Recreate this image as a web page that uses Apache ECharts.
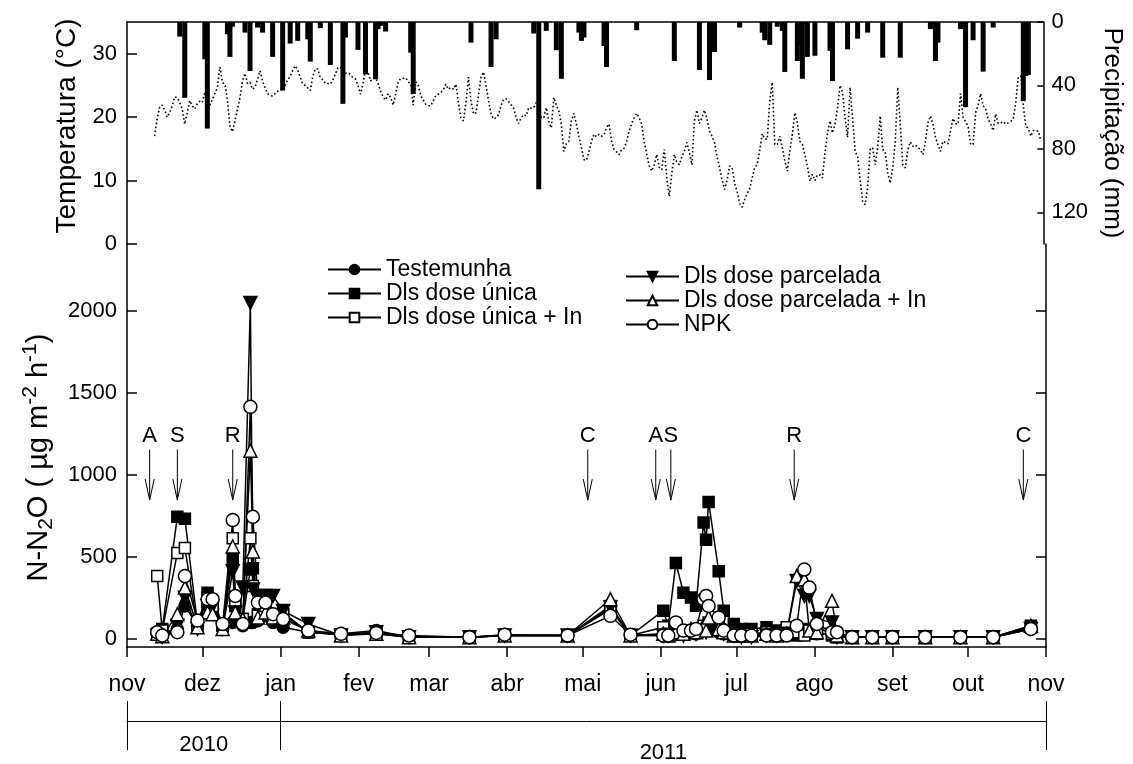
<!DOCTYPE html>
<html>
<head>
<meta charset="utf-8">
<title>N-N2O, temperatura e precipitação</title>
<script src="https://cdn.jsdelivr.net/npm/echarts@6/dist/echarts.min.js"></script>
<style>
html, body { margin: 0; padding: 0; background: #fff; }
#main { width: 1133px; height: 764px; }
</style>
</head>
<body>
<div id="main"></div>
<script>
// dias contados a partir de 1 nov 2010
const monthDays = [0, 30, 61, 92, 120, 151, 181, 212, 242, 273, 304, 334, 365];
const monthLabels = ['nov', 'dez', 'jan', 'fev', 'mar', 'abr', 'mai', 'jun', 'jul', 'ago', 'set', 'out', 'nov'];
const yearTicks = [0, 61, 365];
const yearLabelDays = [30.5, 213];
const yearLabels = ['2010', '2011'];

const tempTicks = [0, 10, 20, 30];
const rainTicks = [0, 40, 80, 120];
const fluxTicks = [0, 500, 1000, 1500, 2000];

// temperatura média diária (°C), a partir do dia 11
const tempStart = 11;
const temperature = [
  17.0, 19.7, 21.6, 21.9, 21.1, 20.0, 20.7, 21.8, 23.2, 23.1,
  22.3, 21.3, 18.9, 20.7, 22.6, 21.8, 21.3, 22.1, 22.5, 22.3,
  23.9, 22.3, 21.9, 22.8, 23.7, 24.7, 27.9, 25.5, 25.2, 22.8,
  18.6, 17.7, 19.4, 21.3, 23.1, 25.7, 26.9, 25.3, 25.5, 24.4,
  24.7, 26.0, 27.3, 25.7, 24.6, 23.7, 23.5, 23.3, 23.7, 24.1,
  24.4, 24.2, 25.0, 25.9, 26.4, 27.4, 28.1, 27.4, 26.3, 25.2,
  25.0, 24.6, 24.2, 26.4,
  27.6, 27.6, 26.2, 25.9, 25.3, 25.3,
  25.2, 25.9, 26.8, 27.8, 27.9, 27.2, 26.9, 27.0, 26.7, 26.2,
  26.0, 25.0, 23.6, 25.3, 27.6, 27.1, 25.7, 26.1, 26.2, 25.3,
  24.1, 23.2, 22.7, 23.7, 23.1, 21.9, 23.7, 25.5, 26.1, 26.1,
  26.2, 25.6, 25.2, 21.9, 25.6, 25.0, 23.4, 22.7, 22.0, 21.8,
  21.8, 22.6, 23.4, 23.6, 23.9, 24.3, 25.2, 24.4, 24.7, 24.4,
  25.2, 22.3, 19.9, 19.4, 22.3, 26.3, 22.6, 20.5, 20.7, 23.4,
  26.3, 27.1, 25.0, 22.6, 20.5, 19.7, 19.9,
  20.4, 21.9, 22.8,
  22.9, 22.5, 21.9, 21.4, 19.9, 19.0, 19.9, 20.4, 20.2, 21.5,
  21.4, 21.5, 22.3, 21.3, 19.9, 19.9, 21.5, 19.3, 18.3, 23.1,
  21.9, 21.0, 18.9, 14.6, 15.8, 16.2, 19.4, 20.6, 18.9, 17.0,
  15.2, 13.3, 13.2, 14.6, 16.2, 17.3, 16.9, 17.3, 17.0, 17.2,
  18.4, 18.9, 16.2, 14.9, 14.5, 14.1, 14.9, 15.1, 16.1, 17.8,
  19.0, 19.9, 20.6, 19.9, 18.9, 16.1, 14.2, 12.3, 11.5, 12.5,
  14.1, 12.1, 11.7, 14.9, 10.4, 7.5, 11.2, 14.1, 12.9, 12.5,
  13.8,
  14.6, 16.0, 14.4, 12.5, 19.4, 21.1, 19.0, 19.9, 21.1,
  19.7, 17.8, 17.0, 16.0, 13.8, 12.1, 10.1, 8.6, 10.0, 12.3,
  12.0, 9.6, 8.3, 6.4, 5.8, 7.0, 7.9, 8.7, 10.4, 12.1,
  12.5, 14.7, 17.4, 16.6, 16.5, 22.6, 25.5, 15.7, 15.7, 17.0,
  15.2, 13.1, 11.5, 14.6, 17.3, 20.7, 19.1, 16.2, 15.7, 14.1,
  12.3, 9.9, 11.0, 10.0, 10.9, 10.9, 10.4, 14.4, 17.5, 19.4,
  17.5, 18.9, 21.5, 25.0, 23.9, 19.9, 16.8, 24.7, 19.9, 14.6,
  13.8, 10.1, 6.7, 6.2, 9.0,
  14.9, 15.2, 12.5, 15.2, 20.2,
  14.9, 14.6, 11.2, 9.6, 12.0, 16.2, 24.7, 18.9, 12.5, 12.0,
  14.9, 16.1, 15.4, 15.6, 15.2, 14.9, 14.1, 16.1, 19.1, 20.2,
  18.9, 16.8, 15.7, 14.6, 16.2, 16.0, 15.8, 17.8, 19.8, 19.0,
  18.9, 23.7, 20.0, 19.3, 18.6, 15.7, 15.7, 20.7, 21.9, 23.7,
  21.8, 21.3, 19.7, 18.9, 17.9, 20.5, 19.0, 19.1, 19.3, 18.9,
  19.1, 19.3, 19.8, 22.3, 26.3, 26.5, 21.8, 18.6, 18.2, 17.0,
  17.9, 17.8, 17.8, 16.2
];

// precipitação diária (mm)
const rainDays = [21, 23, 31, 32, 40, 41, 42, 47, 49, 52, 54, 58, 62, 65, 68, 72, 73, 77, 81, 86,
  87, 92, 95, 99, 100, 101, 103, 113, 114, 137, 145, 147, 162, 164, 167, 171, 173, 180, 181, 182,
  190, 191, 203, 218, 228, 232, 234, 244, 253, 254, 256, 259, 261, 262, 267, 268, 269, 271, 274, 280,
  281, 287, 291, 295, 301, 308, 320, 322, 323, 332, 334, 337, 341, 345, 357, 358, 359];
const rainMm = [9.2, 47.8, 23.5, 67.2, 7.7, 22, 3, 6.7, 30.9, 3.5, 6.7, 22, 43.2, 13.6, 11.9, 10.9, 25, 3.9, 27.1, 51.6,
  9.8, 17.6, 33, 36.1, 4.5, 2.4, 6, 19.3, 45.3, 13, 28.4, 10.9, 7.3, 105.4, 5.6, 17.8, 35.8, 6.7, 11.9, 9.8,
  15.1, 28.4, 5.2, 24.6, 30.3, 36.6, 18.9, 3.5, 6.7, 11.5, 14.4, 3, 5.6, 31.5, 24.6, 15.1, 35.8, 22, 21.3, 18.2,
  37.2, 17.2, 10.5, 6.7, 22.5, 22.5, 4.5, 24.6, 13, 4.5, 53.7, 11.5, 31.3, 3.5, 49.9, 34, 33.4];

// fluxo de N-N2O (µg m-2 h-1) nas datas de coleta
const fluxDays = [12, 14, 20, 23, 28, 32, 34, 38, 42, 43, 46, 49, 50, 52, 55, 58, 62, 72, 85, 99,
  112, 136, 150, 175, 192, 200, 213, 215, 218, 221, 224, 226, 229, 230, 231, 235, 237, 241, 244, 248,
  254, 258, 262, 266, 269, 271, 274, 280, 282, 288, 296, 304, 317, 331, 344, 359];
const testemunha = [30, 15, 60, 200, 80, 200, 180, 60, 100, 120, 80, 100, 100, 110, 140, 100, 70, 40, 30, 50,
  10, 10, 20, 20, 180, 20, 20, 20, 40, 30, 40, 30, 60, 50, 80, 40, 30, 20, 20, 20,
  20, 20, 20, 30, 40, 40, 30, 30, 20, 10, 10, 10, 10, 10, 10, 60];
const doseUnica = [30, 60, 744, 731, 90, 281, 220, 80, 492, 200, 120, 422, 430, 150, 160, 140, 160, 40, 25, 40,
  10, 10, 20, 20, 200, 20, 171, 80, 462, 281, 251, 201, 708, 603, 834, 412, 171, 90, 60, 60,
  70, 50, 30, 20, 30, 60, 80, 20, 10, 10, 10, 10, 10, 10, 10, 80];
const doseUnicaIn = [382, 50, 523, 553, 70, 250, 200, 80, 612, 231, 120, 612, 321, 140, 200, 130, 150, 40, 25, 30,
  10, 10, 20, 20, 190, 20, 70, 30, 60, 40, 50, 40, 80, 60, 100, 80, 40, 30, 30, 30,
  40, 30, 70, 40, 20, 50, 30, 30, 10, 10, 10, 10, 10, 10, 10, 70];
const doseParcelada = [20, 10, 80, 250, 60, 200, 200, 60, 412, 160, 312, 2046, 300, 261, 261, 261, 170, 90, 20, 40,
  10, 10, 20, 20, 190, 20, 20, 20, 30, 20, 40, 30, 50, 40, 60, 50, 30, 20, 10, 10,
  20, 20, 30, 352, 261, 261, 120, 100, 10, 10, 10, 10, 10, 10, 10, 60];
const doseParceladaIn = [30, 15, 150, 312, 70, 160, 150, 60, 562, 160, 120, 1146, 532, 130, 160, 130, 130, 50, 20, 30,
  10, 10, 20, 20, 241, 20, 30, 20, 40, 30, 60, 40, 80, 50, 130, 60, 40, 20, 20, 20,
  30, 20, 30, 382, 362, 50, 40, 231, 20, 10, 10, 10, 10, 10, 10, 80];
const npk = [40, 20, 40, 382, 111, 241, 241, 90, 723, 261, 90, 1413, 743, 221, 221, 150, 120, 50, 30, 36,
  20, 10, 25, 20, 140, 25, 20, 20, 100, 50, 50, 60, 241, 261, 200, 130, 50, 20, 20, 20,
  20, 20, 20, 80, 422, 312, 90, 40, 40, 10, 10, 10, 10, 10, 10, 60];

// manejo: A, S, R, C
const arrowDays = [9, 20, 42, 183, 210, 216, 265, 356];
const arrowLabels = ['A', 'S', 'R', 'C', 'A', 'S', 'R', 'C'];

const FONT = '"Liberation Sans", Arial, sans-serif';
const downTri = 'path://M0,0 L10,0 L5,9 Z';

const chart = echarts.init(document.getElementById('main'));

function pairs(days, vals) {
  return days.map((d, i) => [d, vals[i]]);
}

function fluxSeries(name, vals, symbol, filled, size) {
  return {
    name: name,
    type: 'line',
    xAxisIndex: 1,
    yAxisIndex: 2,
    data: pairs(fluxDays, vals),
    symbol: symbol,
    symbolSize: size,
    showAllSymbol: true,
    lineStyle: { color: '#000', width: 1.5 },
    itemStyle: { color: filled ? '#000' : '#fff', borderColor: '#000', borderWidth: 1.5 },
    emphasis: { disabled: true }
  };
}

function arrowItem(params, api) {
  const d = api.value(0);
  const top = api.coord([d, 1153]);
  const tip = api.coord([d, 845]);
  const txt = api.coord([d, 1236]);
  return {
    type: 'group',
    children: [
      { type: 'line', shape: { x1: top[0], y1: top[1], x2: tip[0], y2: tip[1] },
        style: { stroke: '#000', lineWidth: 1 } },
      { type: 'polyline', shape: { points: [[tip[0] - 4.5, tip[1] - 21], [tip[0], tip[1]], [tip[0] + 4.5, tip[1] - 21]] },
        style: { stroke: '#000', lineWidth: 1, fill: null } },
      { type: 'text', style: { text: arrowLabels[api.value(1)], x: txt[0], y: txt[1],
        textAlign: 'center', textVerticalAlign: 'middle', fontSize: 22, fontFamily: FONT, fill: '#000' } }
    ]
  };
}

const axisLine = { show: true, onZero: false, lineStyle: { color: '#000', width: 1.5 } };
const plain = v => String(v);

chart.setOption({
  animation: false,
  backgroundColor: '#fff',
  textStyle: { fontFamily: FONT, color: '#000' },
  grid: [
    { left: 127, right: 87, top: 22, height: 222 },
    { left: 127, right: 87, top: 244, height: 408 }
  ],
  legend: [
    {
      data: ['Testemunha', 'Dls dose única', 'Dls dose única + In'],
      left: 322, top: 253, orient: 'vertical', itemWidth: 53, itemHeight: 12, itemGap: 1,
      textStyle: { fontSize: 23, fontFamily: FONT, color: '#000' }, selectedMode: false
    },
    {
      data: ['Dls dose parcelada', 'Dls dose parcelada + In', 'NPK'],
      left: 620, top: 260, orient: 'vertical', itemWidth: 53, itemHeight: 12, itemGap: 1,
      textStyle: { fontSize: 23, fontFamily: FONT, color: '#000' }, selectedMode: false
    }
  ],
  xAxis: [
    {
      gridIndex: 0, type: 'value', min: 0, max: 365, position: 'top',
      axisLine: axisLine, axisTick: { show: false }, axisLabel: { show: false }, splitLine: { show: false }
    },
    {
      gridIndex: 1, type: 'value', min: 0, max: 365, position: 'bottom',
      axisLine: axisLine,
      axisTick: { inside: false, length: 10, customValues: monthDays, lineStyle: { color: '#000', width: 1.5 } },
      axisLabel: {
        customValues: monthDays, margin: 26, fontSize: 23, color: '#000', fontFamily: FONT,
        formatter: v => monthLabels[monthDays.indexOf(Math.round(v))]
      },
      splitLine: { show: false }
    },
    {
      gridIndex: 1, type: 'value', min: 0, max: 365, position: 'bottom', offset: 74,
      axisLine: { show: true, onZero: false, lineStyle: { color: '#000', width: 1 } },
      axisTick: { inside: false, length: 29, customValues: yearTicks, lineStyle: { color: '#000', width: 1 } },
      axisLabel: {
        customValues: yearLabelDays, margin: 13, fontSize: 22, color: '#000', fontFamily: FONT,
        formatter: v => v < 100 ? '{a|' + yearLabels[0] + '}' : '{b|' + yearLabels[1] + '}',
        rich: { a: { fontSize: 22, fontFamily: FONT }, b: { fontSize: 22, fontFamily: FONT, padding: [8, 0, 0, 0] } }
      },
      splitLine: { show: false }
    },
    {
      gridIndex: 1, type: 'value', min: 0, max: 365, position: 'bottom', offset: 74,
      axisLine: { show: false, onZero: false },
      axisTick: { inside: true, length: 20, customValues: yearTicks, lineStyle: { color: '#000', width: 1 } },
      axisLabel: { show: false }, splitLine: { show: false }
    }
  ],
  yAxis: [
    {
      gridIndex: 0, type: 'value', min: 0, max: 35, position: 'left',
      name: 'Temperatura (°C)', nameLocation: 'middle', nameGap: 44,
      nameTextStyle: { fontSize: 28, fontFamily: FONT, color: '#000', padding: [0, 0, 0, 14] },
      axisLine: axisLine,
      axisTick: { inside: true, length: 10, customValues: tempTicks, lineStyle: { color: '#000', width: 1.5 } },
      axisLabel: { customValues: tempTicks, fontSize: 22, color: '#000', fontFamily: FONT, margin: 10, formatter: plain },
      splitLine: { show: false }
    },
    {
      gridIndex: 0, type: 'value', min: 0, max: 140, inverse: true, position: 'right',
      name: 'Precipitação (mm)', nameLocation: 'middle', nameGap: 50, nameRotate: -90,
      nameTextStyle: { fontSize: 26, fontFamily: FONT, color: '#000' },
      axisLine: axisLine,
      axisTick: { inside: true, length: 6, customValues: rainTicks, lineStyle: { color: '#000', width: 1.5 } },
      axisLabel: { customValues: rainTicks, fontSize: 22, color: '#000', fontFamily: FONT, margin: 8, formatter: plain },
      splitLine: { show: false }
    },
    {
      gridIndex: 1, type: 'value', min: -50, max: 2405, position: 'left',
      name: '{a|N-N}{s|2}{a|O ( µg m}{p|-2}{a| h}{p|-1}{a|)}', nameLocation: 'middle', nameGap: 54,
      nameTextStyle: {
        fontSize: 29, fontFamily: FONT, color: '#000', padding: [0, 24, 0, 0],
        rich: {
          a: { fontSize: 29, fontFamily: FONT, color: '#000' },
          s: { fontSize: 21, fontFamily: FONT, color: '#000', padding: [16, 0, 0, 0] },
          p: { fontSize: 21, fontFamily: FONT, color: '#000', padding: [0, 0, 16, 0] }
        }
      },
      axisLine: axisLine,
      axisTick: { inside: true, length: 10, customValues: fluxTicks, lineStyle: { color: '#000', width: 1.5 } },
      axisLabel: { customValues: fluxTicks, fontSize: 22, color: '#000', fontFamily: FONT, margin: 10, formatter: plain },
      splitLine: { show: false }
    },
    {
      gridIndex: 1, type: 'value', min: -50, max: 2405, position: 'right',
      axisLine: axisLine,
      axisTick: { inside: true, length: 10, customValues: fluxTicks, lineStyle: { color: '#000', width: 1.5 } },
      axisLabel: { show: false }, splitLine: { show: false }
    }
  ],
  series: [
    {
      name: 'Precipitação', type: 'bar', xAxisIndex: 0, yAxisIndex: 1,
      data: pairs(rainDays, rainMm), barWidth: 5, itemStyle: { color: '#000' }, silent: true
    },
    {
      name: 'Temperatura', type: 'line', xAxisIndex: 0, yAxisIndex: 0,
      data: temperature.map((t, i) => [tempStart + i, t]),
      showSymbol: false, lineStyle: { color: '#000', width: 1.6, type: [1.6, 2.4] }, silent: true
    },
    fluxSeries('Testemunha', testemunha, 'circle', true, 12),
    fluxSeries('Dls dose única', doseUnica, 'rect', true, 11),
    fluxSeries('Dls dose única + In', doseUnicaIn, 'rect', false, 11),
    fluxSeries('Dls dose parcelada', doseParcelada, downTri, true, 13),
    fluxSeries('Dls dose parcelada + In', doseParceladaIn, 'triangle', false, 13),
    fluxSeries('NPK', npk, 'circle', false, 13),
    {
      name: 'manejo', type: 'custom', xAxisIndex: 1, yAxisIndex: 2,
      data: arrowDays.map((d, i) => [d, i]), renderItem: arrowItem, silent: true, z: 5
    }
  ]
});
</script>
</body>
</html>
